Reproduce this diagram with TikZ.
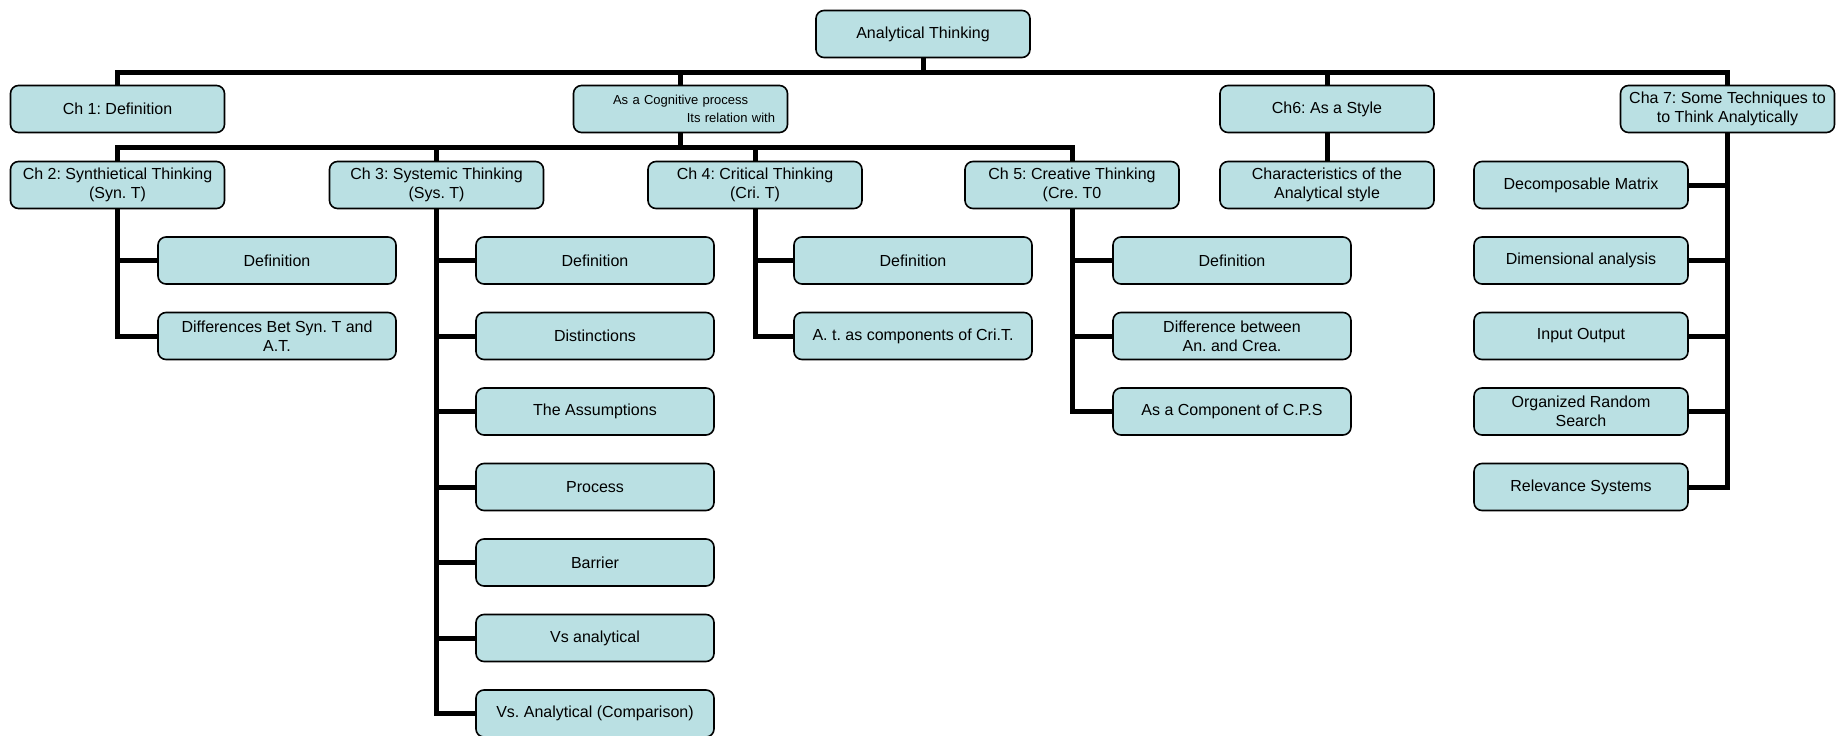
\documentclass[tikz,border=0pt]{standalone}
\usepackage{fontspec}
\setmainfont{Liberation Sans}
\frenchspacing
\begin{document}
\begin{tikzpicture}[x=1pt,y=-1pt,
  box/.style={draw=black, line width=1.6pt, fill=boxfill, rounded corners=8pt,
    minimum width=214pt, minimum height=47pt, inner sep=0pt, align=center,
    font=\fontsize{16}{18.8}\selectfont},
  leaf/.style={box, minimum width=238pt},
  conn/.style={draw=black, line width=5pt, line join=miter}]
\definecolor{boxfill}{RGB}{186,224,227}
\useasboundingbox (0,0) rectangle (1842,736);

% buses
\coordinate (bus1) at (0,72);
\coordinate (bus2) at (0,147);

% top and first level
\node[box] (root) at (923,34) {Analytical Thinking};
\node[box] (ch1) at (117.5,109) {Ch 1: Definition};
\node[box, text width=189pt, inner xsep=12.5pt, align=left,
      font=\fontsize{13}{18.5}\selectfont] (cog) at (680.5,109)
  {\hspace*{27pt}As a Cognitive process\\\hspace*{\fill}Its relation with};
\node[box] (ch6) at (1327,109) {Ch6: As a Style};
\node[box] (ch7) at (1727.5,109) {Cha 7: Some Techniques to\\to Think Analytically};

% second level
\node[box] (ch2) at (117.5,185) {Ch 2: Synthietical Thinking\\(Syn. T)};
\node[box] (ch3) at (436.5,185) {Ch 3: Systemic Thinking\\(Sys. T)};
\node[box] (ch4) at (755,185) {Ch 4: Critical Thinking\\(Cri. T)};
\node[box] (ch5) at (1072,185) {Ch 5: Creative Thinking\\(Cre. T0};
\node[box] (sty) at (1327,185) {Characteristics of the\\Analytical style};

% Ch 2 topics
\node[leaf] (c2a) at (277,260.5) {Definition};
\node[leaf] (c2b) at (277,336) {Differences Bet Syn. T and\\A.T.};

% Ch 3 topics
\node[leaf] (c3a) at (595,260.5) {Definition};
\node[leaf] (c3b) at (595,336) {Distinctions};
\node[leaf] (c3c) at (595,411.5) {The Assumptions};
\node[leaf] (c3d) at (595,487) {Process};
\node[leaf] (c3e) at (595,562.5) {Barrier};
\node[leaf] (c3f) at (595,638) {Vs analytical};
\node[leaf] (c3g) at (595,713.5) {Vs. Analytical (Comparison)};

% Ch 4 topics
\node[leaf] (c4a) at (913,260.5) {Definition};
\node[leaf] (c4b) at (913,336) {A. t. as components of Cri.T.};

% Ch 5 topics
\node[leaf] (c5a) at (1232,260.5) {Definition};
\node[leaf] (c5b) at (1232,336) {Difference between\\An. and Crea.};
\node[leaf] (c5c) at (1232,411.5) {As a Component of C.P.S};

% Ch 7 techniques
\node[box] (t1) at (1581,185) {Decomposable Matrix};
\node[box] (t2) at (1581,260.5) {Dimensional analysis};
\node[box] (t3) at (1581,336) {Input Output};
\node[box] (t4) at (1581,411.5) {Organized Random\\Search};
\node[box] (t5) at (1581,487) {Relevance Systems};

% first level connectors
\foreach \n in {ch1,cog,ch6,ch7}
  \draw[conn] (root.south) -- (root.south |- bus1) -| (\n.north);

% second level connectors
\foreach \n in {ch2,ch3,ch4,ch5}
  \draw[conn] (cog.south) -- (cog.south |- bus2) -| (\n.north);
\draw[conn] (ch6.south) -- (sty.north);

% chapter trunks
\draw[conn] (ch2.south) |- (c2b.west);
\draw[conn] (c2a.west) -- (c2a.west -| ch2.south);

\draw[conn] (ch3.south) |- (c3g.west);
\foreach \n in {c3a,c3b,c3c,c3d,c3e,c3f}
  \draw[conn] (\n.west) -- (\n.west -| ch3.south);

\draw[conn] (ch4.south) |- (c4b.west);
\draw[conn] (c4a.west) -- (c4a.west -| ch4.south);

\draw[conn] (ch5.south) |- (c5c.west);
\foreach \n in {c5a,c5b}
  \draw[conn] (\n.west) -- (\n.west -| ch5.south);

\draw[conn] (ch7.south) |- (t5.east);
\foreach \n in {t1,t2,t3,t4}
  \draw[conn] (\n.east) -- (\n.east -| ch7.south);
\end{tikzpicture}
\end{document}
